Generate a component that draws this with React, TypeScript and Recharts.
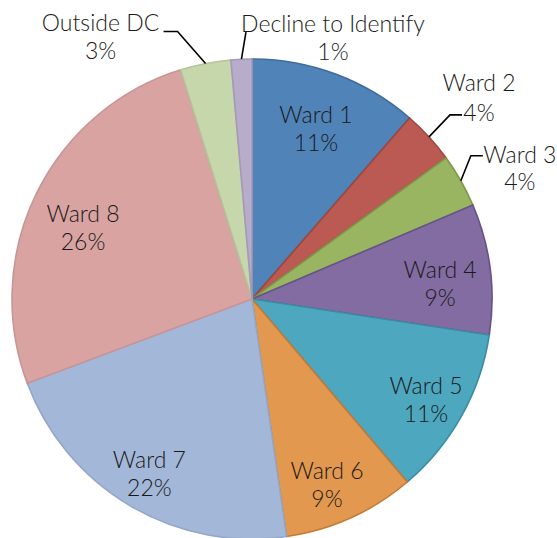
import React from 'react';
import { PieChart, Pie, Cell } from 'recharts';

const categories = [
  'Ward 1',
  'Ward 2',
  'Ward 3',
  'Ward 4',
  'Ward 5',
  'Ward 6',
  'Ward 7',
  'Ward 8',
  'Outside DC',
  'Decline to Identify',
];
const shares = [11.4, 3.6, 3.6, 8.8, 11.4, 8.9, 21.6, 25.9, 3.4, 1.4];

const fills = [
  '#5083B7',
  '#BA5A52',
  '#9AB562',
  '#826CA1',
  '#4DA7BE',
  '#E3984F',
  '#A3B7D8',
  '#D9A3A2',
  '#C6D7AB',
  '#B8ACCB',
];
const strokes = [
  '#3F6C9C',
  '#9C4740',
  '#7E9849',
  '#66538A',
  '#3A8CA3',
  '#C27A36',
  '#94A7C6',
  '#C89596',
  '#B3C598',
  '#A698BA',
];

const data = categories.map((name, i) => ({ name, value: shares[i] }));

type InLayout = { kind: 'in'; f: number; dx: number; dy: number };
type OutLayout = { kind: 'out'; ex: number; ey: number; h: number; tx: number; ty: number; gap: number };
const layouts: (InLayout | OutLayout)[] = [
  { kind: 'in', f: 0.76, dx: 0, dy: 0 },
  { kind: 'out', ex: 21, ey: -22, h: 12, tx: 17, ty: -18, gap: 30 },
  { kind: 'out', ex: 10, ey: -25, h: 12, tx: 37, ty: 12, gap: 27 },
  { kind: 'in', f: 0.79, dx: 0, dy: 8 },
  { kind: 'in', f: 0.83, dx: 0, dy: 3 },
  { kind: 'in', f: 0.83, dx: -7, dy: 3 },
  { kind: 'in', f: 0.84, dx: 0, dy: 0 },
  { kind: 'in', f: 0.77, dx: -3, dy: 9 },
  { kind: 'out', ex: -28, ey: -32, h: -14, tx: -63, ty: 4, gap: 28 },
  { kind: 'out', ex: 4.5, ey: -27, h: 0, tx: 87, ty: 5, gap: 28 },
];

const RAD = Math.PI / 180;
const FONT = 'Lato, "Open Sans", sans-serif';
const TEXT_COLOR = '#1a1a1a';

const renderLabel = (props: any) => {
  const { cx, cy, midAngle, outerRadius, percent, index, name } = props;
  const layout = layouts[index];
  const pct = `${Math.round(percent * 100)}%`;
  const cos = Math.cos(-midAngle * RAD);
  const sin = Math.sin(-midAngle * RAD);
  if (layout.kind === 'in') {
    const r = outerRadius * layout.f;
    const x = cx + r * cos + layout.dx;
    const y = cy + r * sin + layout.dy;
    return (
      <g key={`lbl-${index}`}>
        <text x={x} y={y - 14} textAnchor="middle" dominantBaseline="central" fontFamily={FONT} fontSize={23} fontWeight={300} fill={TEXT_COLOR}>
          {name}
        </text>
        <text x={x} y={y + 14} textAnchor="middle" dominantBaseline="central" fontFamily={FONT} fontSize={23} fontWeight={300} fill={TEXT_COLOR}>
          {pct}
        </text>
      </g>
    );
  }
  const sx = cx + outerRadius * cos;
  const sy = cy + outerRadius * sin;
  const ex = sx + layout.ex;
  const ey = sy + layout.ey;
  const hx = ex + layout.h;
  const tx = hx + layout.tx;
  const ty = ey + layout.ty;
  const half = layout.gap / 2;
  return (
    <g key={`lbl-${index}`}>
      <polyline points={`${sx},${sy} ${ex},${ey} ${hx},${ey}`} fill="none" stroke="#000" strokeWidth={1.6} />
      <text x={tx} y={ty - half} textAnchor="middle" dominantBaseline="central" fontFamily={FONT} fontSize={23} fontWeight={300} fill={TEXT_COLOR}>
        {name}
      </text>
      <text x={tx} y={ty + half} textAnchor="middle" dominantBaseline="central" fontFamily={FONT} fontSize={23} fontWeight={300} fill={TEXT_COLOR}>
        {pct}
      </text>
    </g>
  );
};

export default function App() {
  return (
    <div style={{ position: 'absolute', left: 0, top: 0, width: 557, height: 538, background: '#fff' }}>
      <PieChart width={557} height={538} margin={{ top: 0, right: 0, bottom: 0, left: 0 }}>
        <Pie
          data={data}
          dataKey="value"
          nameKey="name"
          cx={252}
          cy={299}
          outerRadius={240}
          startAngle={90}
          endAngle={-270}
          label={renderLabel}
          labelLine={false}
          isAnimationActive={false}
        >
          {data.map((d, i) => (
            <Cell key={d.name} fill={fills[i]} stroke={strokes[i]} strokeWidth={1.6} />
          ))}
        </Pie>
      </PieChart>
    </div>
  );
}
